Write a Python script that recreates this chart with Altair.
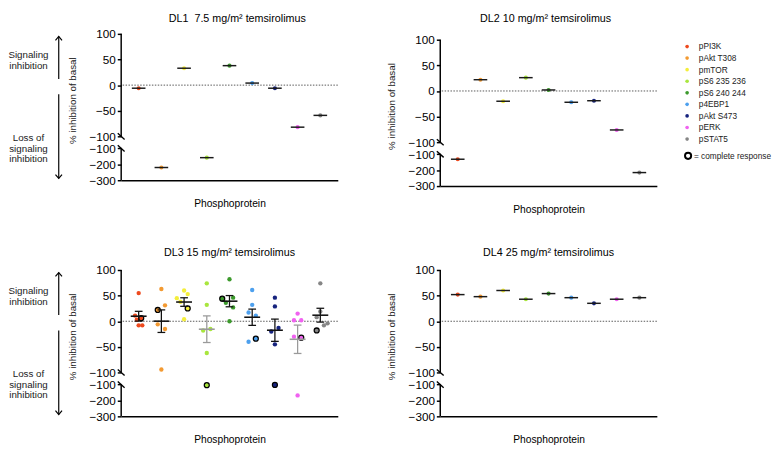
import altair as alt
import pandas as pd

# ---------------- data ----------------
proteins = ["pPI3K", "pAkt T308", "pmTOR", "pS6 235 236", "pS6 240 244",
            "p4EBP1", "pAkt S473", "pERK", "pSTAT5"]
colors = ["#EE4A1E", "#F39A32", "#F4EE3C", "#A9E63E", "#3C9A2C",
          "#4DA0EE", "#16237E", "#F062F0", "#868686"]
gray_error = ["pS6 235 236", "pERK"]

titles = ["DL1\u00a0 7.5 mg/m\u00b2 temsirolimus", "DL2 10 mg/m\u00b2 temsirolimus",
          "DL3 15 mg/m\u00b2 temsirolimus", "DL4 25 mg/m\u00b2 temsirolimus"]

dl1_values = [-6, -220, 33, -158, 38, 4, -6, -82, -59]
dl2_values = [-131, 22, -20, 26, 2, -22, -19, -76, -215]
dl4_values = [52, 48, 60, 43, 54, 46, 35, 43, 46]

# DL3: individual patients per phosphoprotein
dl3_pPI3K = [55, 11, -8, -8, 6, 3]
dl3_pAkt_T308 = [63, 31, 22, -6, -15, -94]
dl3_pmTOR = [60, 53, 45, 38, 25, 4]
dl3_pS6_235 = [74, 32, -18, -15, -62, -104]
dl3_pS6_240 = [82, 44, 36, 46, 27, 0]
dl3_p4EBP1 = [61, 32, 17, 11, -34, -40]
dl3_pAkt_S473 = [46, 29, -13, -20, -45, -102]
dl3_pERK = [15, 2, 2, -30, -32, -168]
dl3_pSTAT5 = [74, 19, 8, -8, -4, -18]
dl3_values = [dl3_pPI3K, dl3_pAkt_T308, dl3_pmTOR, dl3_pS6_235, dl3_pS6_240,
              dl3_p4EBP1, dl3_pAkt_S473, dl3_pERK, dl3_pSTAT5]
# horizontal scatter slot of each point (GraphPad-style spreading)
dl3_jitter = [[0, -1, 0, 1, 0.7, -0.5], [0, 1, -1, -1, 1, 0], [0, 1, -2, -1, 1, 0],
              [0, 0, -1, 1, 0, 0], [0, -2, -1, 1, 1, 0], [0, 0, -1, 1, 1, -1],
              [0, 0, 1, -1, 0, 0], [0, -1, 1, -1, 1, 0], [0, 0, -1, 1, 2, -1]]
# index of the patient with a complete response in each list
dl3_complete = [4, 2, 4, 5, 1, 4, 5, 4, 5]

y_ticks_upper = [100, 50, 0, -50, -100]
y_ticks_lower = [-100, -200, -300]

# ---------------- broken axis geometry ----------------
W, H = 222, 150
GAP = 23.5          # gap between the two axis segments (data units)
K = 0.31            # compression of the lower segment
LOW_TOP = -100 - GAP

def tf_lower(v):
    return LOW_TOP + (v + 100) * K

Y_MIN = tf_lower(-300)

def texpr(f):
    return (f"datum['{f}'] >= -100 ? datum['{f}'] : "
            f"{LOW_TOP} + (datum['{f}'] + 100) * {K}")

tick_vals = [float(v) for v in y_ticks_upper] + [tf_lower(v) for v in y_ticks_lower]
label_expr = (f"datum.value >= -100 ? format(datum.value, 'd') : "
              f"format(round(-100 + (datum.value - ({LOW_TOP})) / {K}), 'd')")

XPAD = 0.77
SLOT = 0.16
FONT = "Liberation Sans"

cscale = alt.Scale(domain=proteins, range=colors)
xscale = alt.Scale(domain=[-XPAD, 8 + XPAD], nice=False, zero=False)

xaxis = alt.Axis(title="Phosphoprotein", labels=False, ticks=False, grid=False,
                 domain=True, domainColor="black", domainWidth=1.5,
                 titleFontSize=10.5, titleFontWeight="normal", titleColor="black",
                 titlePadding=19, titleFont=FONT)


class Ctx:
    """Scales/axes of one panel; `shift` pushes the plot area down inside its group."""
    def __init__(self, shift=0):
        self.shift = shift
        self.height = H + shift
        self.yscale = alt.Scale(domain=[Y_MIN, 100], range=[H + shift, shift],
                                nice=False, zero=False)
        self.yaxis = alt.Axis(title="% inhibition of basal", values=tick_vals,
                              labelExpr=label_expr, domain=False, grid=False, ticks=True,
                              tickSize=4, tickWidth=1.5, tickColor="black",
                              labelFontSize=12, labelColor="black", labelOverlap=False,
                              labelPadding=2, labelFont=FONT, titleFontSize=10,
                              titleFontWeight="normal", titleColor="#222", titlePadding=12,
                              titleY=H / 2 - 7 + shift, titleFont=FONT)

    def x(self, f):
        return alt.X(f, type="quantitative", scale=xscale, axis=xaxis)

    def y(self, f):
        return alt.Y(f, type="quantitative", scale=self.yscale, axis=self.yaxis)


def frame_layers(c, left_annot):
    layers = []
    zero = alt.Chart(pd.DataFrame({"z": [0]})).mark_rule(
        strokeDash=[1.5, 1.5], color="#555", strokeWidth=1).encode(y=c.y("z"))
    layers.append(zero)
    seg = alt.Chart(pd.DataFrame({"a": [100, LOW_TOP], "b": [-100, Y_MIN]})).mark_rule(
        color="black", strokeWidth=1.5).encode(x=alt.value(0), y=c.y("a"), y2="b")
    layers.append(seg)
    brk = alt.Chart(pd.DataFrame({"c": [-100, LOW_TOP]})).transform_calculate(
        ya="datum.c + 6", yb="datum.c - 6").mark_rule(
        color="black", strokeWidth=1.4).encode(
        x=alt.value(-3.5), x2=alt.value(3.5), y=c.y("ya"), y2="yb")
    layers.append(brk)
    if left_annot:
        arr = alt.Chart(pd.DataFrame({"a": [12, -18], "b": [95, -182]})).mark_rule(
            color="black", strokeWidth=1.2).encode(x=alt.value(-64), y=c.y("a"), y2="b")
        head_up = alt.Chart(pd.DataFrame({"a": [95]})).mark_point(
            shape="M-1,1.2L0,0L1,1.2", size=45, color="black", strokeWidth=1.2,
            filled=False, opacity=1).encode(x=alt.value(-64), y=c.y("a"))
        head_dn = alt.Chart(pd.DataFrame({"a": [-182]})).mark_point(
            shape="M-1,-1.2L0,0L1,-1.2", size=45, color="black", strokeWidth=1.2,
            filled=False, opacity=1).encode(x=alt.value(-64), y=c.y("a"))
        txt = alt.Chart(pd.DataFrame({
            "a": [58, -103],
            "t": ["Signaling\ninhibition", "Loss of\nsignaling\ninhibition"]})).mark_text(
            lineBreak="\n", fontSize=10, lineHeight=11, align="center", baseline="middle",
            color="#222", font=FONT).encode(x=alt.value(-95), y=c.y("a"), text="t:N")
        layers += [arr, head_up, head_dn, txt]
    return layers


def title(text, offset, dx, dy=0):
    return alt.TitleParams(text=text, fontSize=11, fontWeight="normal", font=FONT,
                           color="black", frame="group", anchor="middle",
                           offset=offset, dx=dx, dy=dy)


def single_panel(values, ttl, left_annot, offset, dx, shift=0, dy=0):
    c = Ctx(shift)
    df = pd.DataFrame({"protein": proteins, "idx": list(range(9)), "v": values})
    base = alt.Chart(df).transform_calculate(ty=texpr("v")).transform_calculate(
        x1="datum.idx - 0.3", x2="datum.idx + 0.3")
    pts = base.mark_circle(size=18, opacity=1).encode(
        x=c.x("idx"), y=c.y("ty"),
        color=alt.Color("protein:N", scale=cscale, legend=None))
    bar = base.mark_rule(color="#1a1a1a", strokeWidth=1.5).encode(
        x=c.x("x1"), x2="x2", y=c.y("ty"))
    layers = frame_layers(c, left_annot) + [pts, bar]
    return alt.layer(*layers).properties(width=W, height=c.height,
                                         title=title(ttl, offset, dx, dy))


def scatter_panel(ttl, left_annot, offset, dx):
    c = Ctx(0)
    rows = []
    for i, (p, vals) in enumerate(zip(proteins, dl3_values)):
        for j, v in enumerate(vals):
            rows.append({"protein": p, "idx": i, "v": v,
                         "jit": dl3_jitter[i][j], "cr": j == dl3_complete[i]})
    df = pd.DataFrame(rows)
    base = alt.Chart(df).transform_calculate(ty=texpr("v"), xp=f"datum.idx + datum.jit * {SLOT}")
    pts = base.transform_filter("!datum.cr").mark_circle(size=20, opacity=1).encode(
        x=c.x("xp"), y=c.y("ty"),
        color=alt.Color("protein:N", scale=cscale, legend=None))
    crs = base.transform_filter("datum.cr").mark_point(
        shape="circle", filled=True, size=26, stroke="black", strokeWidth=1.3,
        opacity=1).encode(
        x=c.x("xp"), y=c.y("ty"),
        fill=alt.Fill("protein:N", scale=cscale, legend=None))
    gray_list = "[" + ",".join(f"'{g}'" for g in gray_error) + "]"
    agg = (alt.Chart(df)
           .transform_aggregate(m="mean(v)", se="stderr(v)", groupby=["idx", "protein"])
           .transform_calculate(rlo="datum.m - datum.se", rhi="datum.m + datum.se")
           .transform_calculate(tm=texpr("m"))
           .transform_calculate(tlo=texpr("rlo"))
           .transform_calculate(thi=texpr("rhi"))
           .transform_calculate(xm1="datum.idx - 0.35", xm2="datum.idx + 0.35",
                                xc1="datum.idx - 0.17", xc2="datum.idx + 0.17",
                                ecol=f"indexof({gray_list}, datum.protein) >= 0 ? '#9a9a9a' : '#111111'"))
    ecol = alt.Color("ecol:N", scale=None)
    vbar = agg.mark_rule(strokeWidth=1.3).encode(x=c.x("idx"), y=c.y("tlo"), y2="thi", color=ecol)
    cap_lo = agg.mark_rule(strokeWidth=1.3).encode(x=c.x("xc1"), x2="xc2", y=c.y("tlo"), color=ecol)
    cap_hi = agg.mark_rule(strokeWidth=1.3).encode(x=c.x("xc1"), x2="xc2", y=c.y("thi"), color=ecol)
    mbar = agg.mark_rule(strokeWidth=1.6).encode(x=c.x("xm1"), x2="xm2", y=c.y("tm"), color=ecol)
    layers = frame_layers(c, left_annot) + [pts, crs, vbar, cap_lo, cap_hi, mbar]
    return alt.layer(*layers).properties(width=W, height=c.height,
                                         title=title(ttl, offset, dx))


# ---------------- legend panel ----------------
LEG_W, LEG_H = 100, 140
LEG_Y0, LEG_STEP, LEG_CR = 13, 11.85, 125
leg_df = pd.DataFrame({"protein": proteins, "row": list(range(9))})
leg_scale = alt.Scale(domain=[0, LEG_H], range=[0, LEG_H], nice=False, zero=False)
leg_base = alt.Chart(leg_df).transform_calculate(py=f"{LEG_Y0} + datum.row * {LEG_STEP}")
leg_dots = leg_base.mark_circle(size=14, opacity=1).encode(
    x=alt.value(22), y=alt.Y("py:Q", scale=leg_scale, axis=None),
    color=alt.Color("protein:N", scale=cscale, legend=None))
leg_text = leg_base.mark_text(align="left", baseline="middle", fontSize=8.5,
                              color="#222", font=FONT).encode(
    x=alt.value(34), y=alt.Y("py:Q", scale=leg_scale, axis=None), text="protein:N")
cr_df = pd.DataFrame({"py": [LEG_CR], "label": ["= complete response"]})
cr_sym = alt.Chart(cr_df).mark_point(shape="circle", size=40, strokeWidth=2,
                                      color="black", filled=False, opacity=1).encode(
    x=alt.value(23), y=alt.Y("py:Q", scale=leg_scale, axis=None))
cr_txt = alt.Chart(cr_df).mark_text(align="left", baseline="middle", fontSize=8.5,
                                     color="#222", font=FONT).encode(
    x=alt.value(29), y=alt.Y("py:Q", scale=leg_scale, axis=None), text="label:N")
legend = alt.layer(leg_dots, leg_text, cr_sym, cr_txt).properties(width=LEG_W, height=LEG_H)

# ---------------- assemble ----------------
dl1 = single_panel(dl1_values, titles[0], True, 4, 8)
dl2 = single_panel(dl2_values, titles[1], False, 4, -3, shift=6, dy=-6)
dl3 = scatter_panel(titles[2], True, 6, 0)
dl4 = single_panel(dl4_values, titles[3], False, 6, 0)

row1 = alt.hconcat(dl1, alt.hconcat(dl2, legend, spacing=8), spacing=48)
row2 = alt.hconcat(dl3, dl4, spacing=48)
chart = (alt.vconcat(row1, row2, spacing=33)
         .properties(padding=0, background="white")
         .configure(font=FONT)
         .configure_view(stroke=None))

chart.save("out.html", embed_options={"renderer": "svg", "actions": False})
